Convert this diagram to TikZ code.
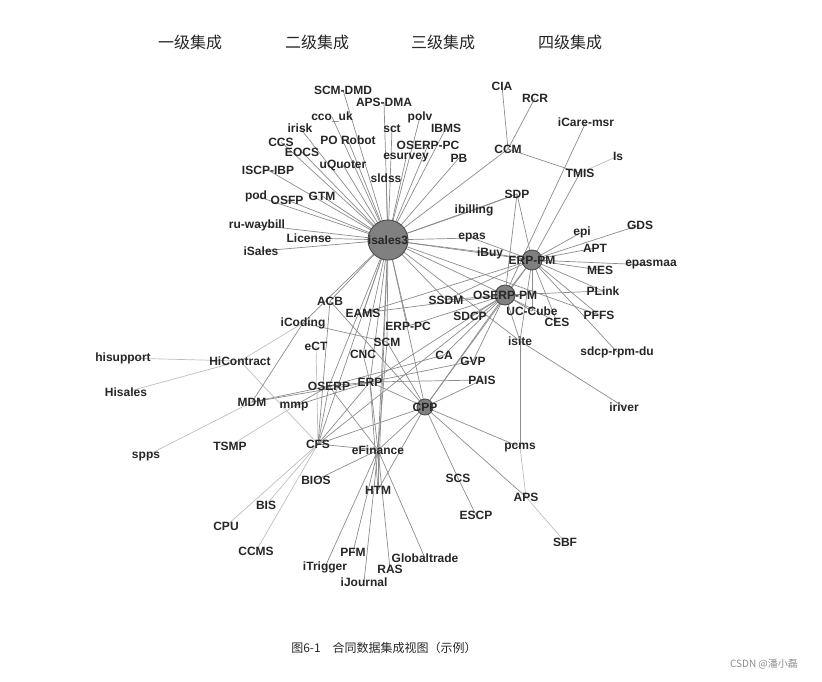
\documentclass[tikz,border=0pt]{standalone}
\usepackage{fontspec}
\setmainfont{Liberation Sans}
\newfontfamily\cjk{Noto Sans CJK SC}
\usepackage{tikz}

\tikzset{
  lbl/.style={inner sep=0pt, font=\bfseries\fontsize{12}{14}\selectfont, text=black!85},
  edge/.style={draw=black!45, line width=0.7pt},
  ledge/.style={draw=black!25, line width=0.7pt},
  hub/.style={circle, draw=black!70, fill=black!50, line width=0.9pt},
  dot/.style={circle, fill=black!35, inner sep=0pt, minimum size=2.5pt}
}

\begin{document}
\begin{tikzpicture}[x=1pt,y=-1pt]
\useasboundingbox (0,0) rectangle (822,681);
% node positions
\coordinate (isales3) at (388,240);
\coordinate (erppm) at (532,260);
\coordinate (oserppm) at (505,295);
\coordinate (cpp) at (425,407);
\coordinate (scmdmd) at (343,90);
\coordinate (apsdma) at (384,102);
\coordinate (ccouk) at (332,117);
\coordinate (polv) at (420,117);
\coordinate (irisk) at (300,128);
\coordinate (sct) at (392,129);
\coordinate (ibms) at (446,128);
\coordinate (porobot) at (348,140);
\coordinate (ccs) at (281,142);
\coordinate (oserppc) at (428,145);
\coordinate (eocs) at (302,152);
\coordinate (esurvey) at (406,158);
\coordinate (pb) at (459,158);
\coordinate (uquoter) at (343,165);
\coordinate (iscpibp) at (268,170);
\coordinate (sldss) at (386,178);
\coordinate (pod) at (256,196);
\coordinate (osfp) at (287,200);
\coordinate (gtm) at (322,196);
\coordinate (ruwaybill) at (257,225);
\coordinate (license) at (309,238);
\coordinate (isalesl) at (261,251);
\coordinate (cia) at (502,86);
\coordinate (rcr) at (535,98);
\coordinate (icaremsr) at (586,122);
\coordinate (ccm) at (508,149);
\coordinate (is) at (618,156);
\coordinate (tmis) at (580,173);
\coordinate (sdp) at (517,194);
\coordinate (ibilling) at (474,210);
\coordinate (epas) at (472,238);
\coordinate (ibuy) at (490,253);
\coordinate (epi) at (582,232);
\coordinate (gds) at (640,225);
\coordinate (apt) at (595,248);
\coordinate (mes) at (600,270);
\coordinate (epasmaa) at (651,265);
\coordinate (plink) at (603,291);
\coordinate (pffs) at (599,315);
\coordinate (ces) at (557,322);
\coordinate (uccube) at (532,311);
\coordinate (ssdm) at (446,300);
\coordinate (sdcp) at (470,316);
\coordinate (eams) at (363,313);
\coordinate (acb) at (330,301);
\coordinate (icoding) at (303,323);
\coordinate (erppc) at (408,326);
\coordinate (ect) at (316,346);
\coordinate (scm) at (387,342);
\coordinate (cnc) at (363,354);
\coordinate (ca) at (444,355);
\coordinate (gvp) at (473,361);
\coordinate (isite) at (520,341);
\coordinate (sdcprpmdu) at (617,352);
\coordinate (hisupport) at (123,358);
\coordinate (hicontract) at (240,361);
\coordinate (hisales) at (126,392);
\coordinate (pais) at (482,380);
\coordinate (oserp) at (329,386);
\coordinate (erp) at (370,382);
\coordinate (mdm) at (252,402);
\coordinate (mmp) at (294,406);
\coordinate (iriver) at (624,407);
\coordinate (pcms) at (520,447);
\coordinate (tsmp) at (230,446);
\coordinate (spps) at (146,456);
\coordinate (cfs) at (318,444);
\coordinate (efinance) at (378,450);
\coordinate (bios) at (316,480);
\coordinate (htm) at (378,490);
\coordinate (scs) at (458,478);
\coordinate (aps) at (526,497);
\coordinate (bis) at (266,505);
\coordinate (escp) at (476,515);
\coordinate (cpu) at (226,526);
\coordinate (sbf) at (565,542);
\coordinate (ccms) at (256,551);
\coordinate (pfm) at (353,552);
\coordinate (globaltrade) at (425,558);
\coordinate (itrigger) at (325,567);
\coordinate (ras) at (390,569);
\coordinate (ijournal) at (364,582);
% connectors
\foreach \t in {scmdmd,apsdma,ccouk,polv,irisk,sct,ibms,porobot,ccs,oserppc,eocs,esurvey,pb,uquoter,iscpibp,sldss,pod,osfp,gtm,ruwaybill,license,isalesl,ccm,sdp,ibilling,epas,ibuy,erppm,oserppm,acb,eams,erppc,scm,cnc,erp,cpp,ssdm,isite,cfs,efinance,icoding,htm,pffs,oserp}
  \draw[edge] (isales3) -- (\t);
\foreach \t in {cia,rcr,tmis}
  \draw[edge] (ccm) -- (\t);
\draw[ledge] (tmis) -- (is);
\draw[edge] (tmis) -- (erppm);
\draw[edge] (icaremsr) -- (oserppm);
\foreach \t in {ibilling,erppm,oserppm}
  \draw[edge] (sdp) -- (\t);
\foreach \t in {epi,gds,apt,mes,epasmaa,plink,pffs,ces,uccube,ibuy,epas,isite,oserppm,sdcprpmdu,eams,ssdm,cpp}
  \draw[edge] (erppm) -- (\t);
\foreach \t in {ssdm,sdcp,uccube,ces,isite,cpp,gvp,ca,erp,eams,plink,erppc,cfs}
  \draw[edge] (oserppm) -- (\t);
\draw[edge] (isite) -- (pcms);
\draw[edge] (isite) -- (iriver);
\draw[ledge] (pcms) -- (aps);
\draw[ledge] (aps) -- (sbf);
\foreach \t in {scs,aps,pcms,efinance,htm,erp,cfs,scm,pais,acb}
  \draw[edge] (cpp) -- (\t);
\foreach \t in {pais,oserp,cnc,mmp,mdm,efinance,htm,cfs,gvp}
  \draw[edge] (erp) -- (\t);
\foreach \t in {mdm,mmp,cfs,efinance,ca}
  \draw[edge] (oserp) -- (\t);
\foreach \t in {cfs,htm,pfm,itrigger,ras,ijournal,globaltrade,bios,scm}
  \draw[edge] (efinance) -- (\t);
\foreach \t in {bis,cpu,ccms,ect,hicontract}
  \draw[ledge] (cfs) -- (\t);
\draw[edge] (cfs) -- (acb);
\draw[ledge] (mmp) -- (tsmp);
\draw[ledge] (hicontract) -- (hisupport);
\draw[ledge] (hicontract) -- (hisales);
\draw[ledge] (hicontract) -- (icoding);
\draw[ledge] (spps) -- (mdm);
\draw[edge] (icoding) -- (mdm);
\draw[edge] (icoding) -- (scm);
\draw[edge] (scs) -- (escp);
% hubs
\node[hub, minimum size=40pt] (n-isales3) at (isales3) {};
\node[hub, minimum size=20pt] (n-erppm) at (erppm) {};
\node[hub, minimum size=20pt] (n-oserppm) at (oserppm) {};
\node[hub, minimum size=16pt] (n-cpp) at (cpp) {};
% labels
\foreach \c/\l in {isales3/isales3,erppm/ERP-PM,oserppm/OSERP-PM,cpp/CPP,scmdmd/SCM-DMD,apsdma/APS-DMA,ccouk/cco\_uk,polv/polv,irisk/irisk,sct/sct,ibms/IBMS,porobot/PO Robot,ccs/CCS,oserppc/OSERP-PC,eocs/EOCS,esurvey/esurvey,pb/PB,uquoter/uQuoter,iscpibp/ISCP-IBP,sldss/sldss,pod/pod,osfp/OSFP,gtm/GTM,ruwaybill/ru-waybill,license/License,isalesl/iSales,cia/CIA,rcr/RCR,icaremsr/iCare-msr,ccm/CCM,is/Is,tmis/TMIS,sdp/SDP,ibilling/ibilling,epas/epas,ibuy/iBuy,epi/epi,gds/GDS,apt/APT,mes/MES,epasmaa/epasmaa,plink/PLink,pffs/PFFS,ces/CES,uccube/UC-Cube,ssdm/SSDM,sdcp/SDCP,eams/EAMS,acb/ACB,icoding/iCoding,erppc/ERP-PC,ect/eCT,scm/SCM,cnc/CNC,ca/CA,gvp/GVP,isite/isite,sdcprpmdu/sdcp-rpm-du,hisupport/hisupport,hicontract/HiContract,hisales/Hisales,pais/PAIS,oserp/OSERP,erp/ERP,mdm/MDM,mmp/mmp,iriver/iriver,pcms/pcms,tsmp/TSMP,spps/spps,cfs/CFS,efinance/eFinance,bios/BIOS,htm/HTM,scs/SCS,aps/APS,bis/BIS,escp/ESCP,cpu/CPU,sbf/SBF,ccms/CCMS,pfm/PFM,globaltrade/Globaltrade,itrigger/iTrigger,ras/RAS,ijournal/iJournal}
  \node[lbl] (l-\c) at (\c) {\l};
% legend and caption
\foreach \x/\t in {190/一级集成,317/二级集成,443/三级集成,570/四级集成}
  \node[font=\cjk\fontsize{16}{18}\selectfont, text=black!85] at (\x,42) {\t};
\node[font=\cjk\fontsize{12}{14}\selectfont, text=black!85] (caption) at (384,648) {图6-1\quad 合同数据集成视图（示例）};
\node[font=\cjk\fontsize{10}{12}\selectfont, text=black!45] (mark) at (764,664) {CSDN @潘小磊};
\end{tikzpicture}
\end{document}
